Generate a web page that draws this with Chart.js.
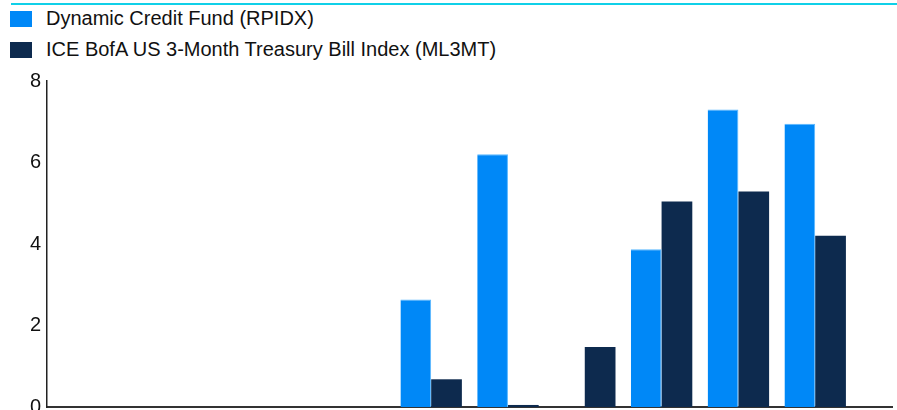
<!DOCTYPE html>
<html>
<head>
<meta charset="utf-8">
<script src="https://cdn.jsdelivr.net/npm/chart.js@4/dist/chart.umd.min.js"></script>
<style>
  body { margin: 0; background: #fff; font-family: "Liberation Sans", Arial, sans-serif; }
  #wrap { position: relative; width: 897px; height: 410px; overflow: hidden; }
  #rule { position: absolute; left: 11px; right: 0; top: 3px; height: 2px; background: #10d0e8; }
  #legend { position: absolute; left: 10px; top: 3px; }
  .item { display: flex; align-items: center; height: 31px; font-size: 20px; color: #111; }
  .swatch { width: 22px; height: 16px; margin-right: 14px; }
  canvas { position: absolute; left: 0; top: 0; }
</style>
</head>
<body>
<div id="wrap">
  <div id="rule"></div>
  <div id="legend"></div>
  <!-- taller than the frame so the baseline sits at the bottom edge -->
  <canvas id="returnsChart" width="897" height="425"></canvas>
</div>
<script>
// calendar years on the x axis
const years = ['2015', '2016', '2017', '2018', '2019', '2020', '2021', '2022', '2023', '2024', '2025', '2026'];

// annual total returns (%)
const fundReturns = [null, null, null, null, null, 2.64, 6.20, null, 3.87, 7.30, 6.95, null];
const benchReturns = [null, null, null, null, null, 0.68, 0.05, 1.47, 5.04, 5.29, 4.20, null];

const seriesNames = ['Dynamic Credit Fund (RPIDX)', 'ICE BofA US 3-Month Treasury Bill Index (ML3MT)'];
const seriesColors = ['#0088f7', '#0d2a4e'];

const yTicks = [0, 2, 4, 6, 8];

const ctx = document.getElementById('returnsChart').getContext('2d');

const chart = new Chart(ctx, {
    type: 'bar',
    data: {
        labels: years,
        datasets: [
            {
                label: seriesNames[0],
                data: fundReturns,
                backgroundColor: seriesColors[0],
                borderColor: '#5ab8ff',
                borderWidth: { top: 1, left: 0, right: 1, bottom: 0 },
                barPercentage: 1,
                categoryPercentage: 0.8
            },
            {
                label: seriesNames[1],
                data: benchReturns,
                backgroundColor: seriesColors[1],
                barPercentage: 1,
                categoryPercentage: 0.8
            }
        ]
    },
    options: {
        responsive: false,
        animation: false,
        layout: { padding: { top: 81, right: 5, left: 24, bottom: 0 } },
        plugins: {
            legend: { display: false },
            tooltip: { enabled: false }
        },
        scales: {
            x: {
                offset: false,
                grid: { display: false, drawTicks: false },
                border: { display: true, color: '#333', width: 2 },
                ticks: { display: false }
            },
            y: {
                min: 0,
                max: 8,
                afterBuildTicks: axis => { axis.ticks = yTicks.map(v => ({ value: v })); },
                grid: { display: false, drawTicks: false },
                border: { display: true, color: '#222', width: 1.5 },
                ticks: {
                    padding: 6,
                    color: '#111',
                    font: { family: '"Liberation Sans", Arial, sans-serif', size: 20 }
                }
            }
        }
    }
});

// legend rows, one per series
const legend = document.getElementById('legend');
chart.data.datasets.forEach((ds, i) => {
    const row = document.createElement('div');
    row.className = 'item';
    const sw = document.createElement('span');
    sw.className = 'swatch';
    sw.style.background = seriesColors[i];
    row.appendChild(sw);
    row.appendChild(document.createTextNode(ds.label));
    legend.appendChild(row);
});
</script>
</body>
</html>
